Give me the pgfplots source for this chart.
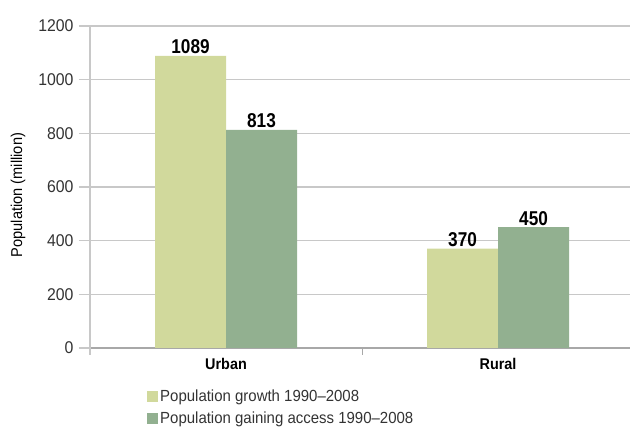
\documentclass[border=0pt]{standalone}
\usepackage{fontspec}
\setmainfont{Liberation Sans}[FakeStretch=0.93]
\newfontfamily\condfont{Liberation Sans}[FakeStretch=0.86]
\usepackage{pgfplots}
\pgfplotsset{compat=1.18}
\definecolor{lightg}{HTML}{D1D99C}
\definecolor{darkg}{HTML}{92B090}
\definecolor{gridc}{HTML}{C8C8C8}
\definecolor{axisc}{HTML}{A8A8A8}
\definecolor{txt}{HTML}{333333}
\begin{document}
\begin{tikzpicture}
\begin{axis}[
  scale only axis, width=540pt, height=322pt,
  at={(0,0)}, anchor=south west,
  xmin=-0.5, xmax=1.485, ymin=0, ymax=1200,
  ybar=0pt, bar width=0.261,
  axis x line*=bottom, axis y line*=left,
  x axis line style={draw=axisc, line width=1.2pt},
  y axis line style={draw=gridc, line width=1.2pt},
  xtick={0,1}, xticklabels={Urban,Rural},
  x tick style={draw=none},
  xticklabel style={font=\fontsize{15.5}{18}\selectfont\bfseries, text=black, yshift=4pt},
  ytick={0,200,...,1200},
  y tick style={draw=gridc, line width=1.2pt},
  tick align=outside, major tick length=11pt,
  yticklabel style={font=\fontsize{17}{20}\selectfont, text=txt, xshift=-2pt},
  /pgf/number format/assume math mode=true,
  /pgf/number format/1000 sep={},
  scaled y ticks=false,
  ymajorgrids, grid style={draw=gridc, line width=1.2pt},
  ylabel={Population (million)},
  ylabel style={font=\fontsize{15.7}{18}\selectfont, text=black, at={(axis description cs:-0.133,0.475)}, anchor=center},
  nodes near coords,
  nodes near coords style={font=\condfont\fontsize{20}{23}\selectfont\bfseries, text=black, inner sep=1.5pt, /pgf/number format/1000 sep={}},
  legend style={at={(axis description cs:0.1056,-0.122)}, anchor=north west, draw=none, fill=none, inner sep=0pt,
    font=\fontsize{16.1}{19}\selectfont, text=txt, row sep=5.5pt, nodes={inner sep=2pt},
    /tikz/every even column/.append style={column sep=5pt}},
  legend cell align=left,
  legend image code/.code={\fill[#1] (0pt,-5.5pt) rectangle (11pt,5.5pt);},
  clip=false,
]
\addplot[fill=lightg, draw=none] coordinates {(0,1089) (1,370)};
\addplot[fill=darkg, draw=none] coordinates {(0,813) (1,450)};
\legend{Population growth 1990--2008, Population gaining access 1990--2008}
\draw[draw=gridc, line width=1.2pt] (axis cs:-0.5,0) -- ++(0pt,-7pt);
\draw[draw=axisc, line width=1pt] (axis cs:0.5,0) -- ++(0pt,-7pt);
\end{axis}
\pgfresetboundingbox
\path[use as bounding box] (-90pt,-80pt) rectangle (540pt,348pt);
\end{tikzpicture}
\end{document}
